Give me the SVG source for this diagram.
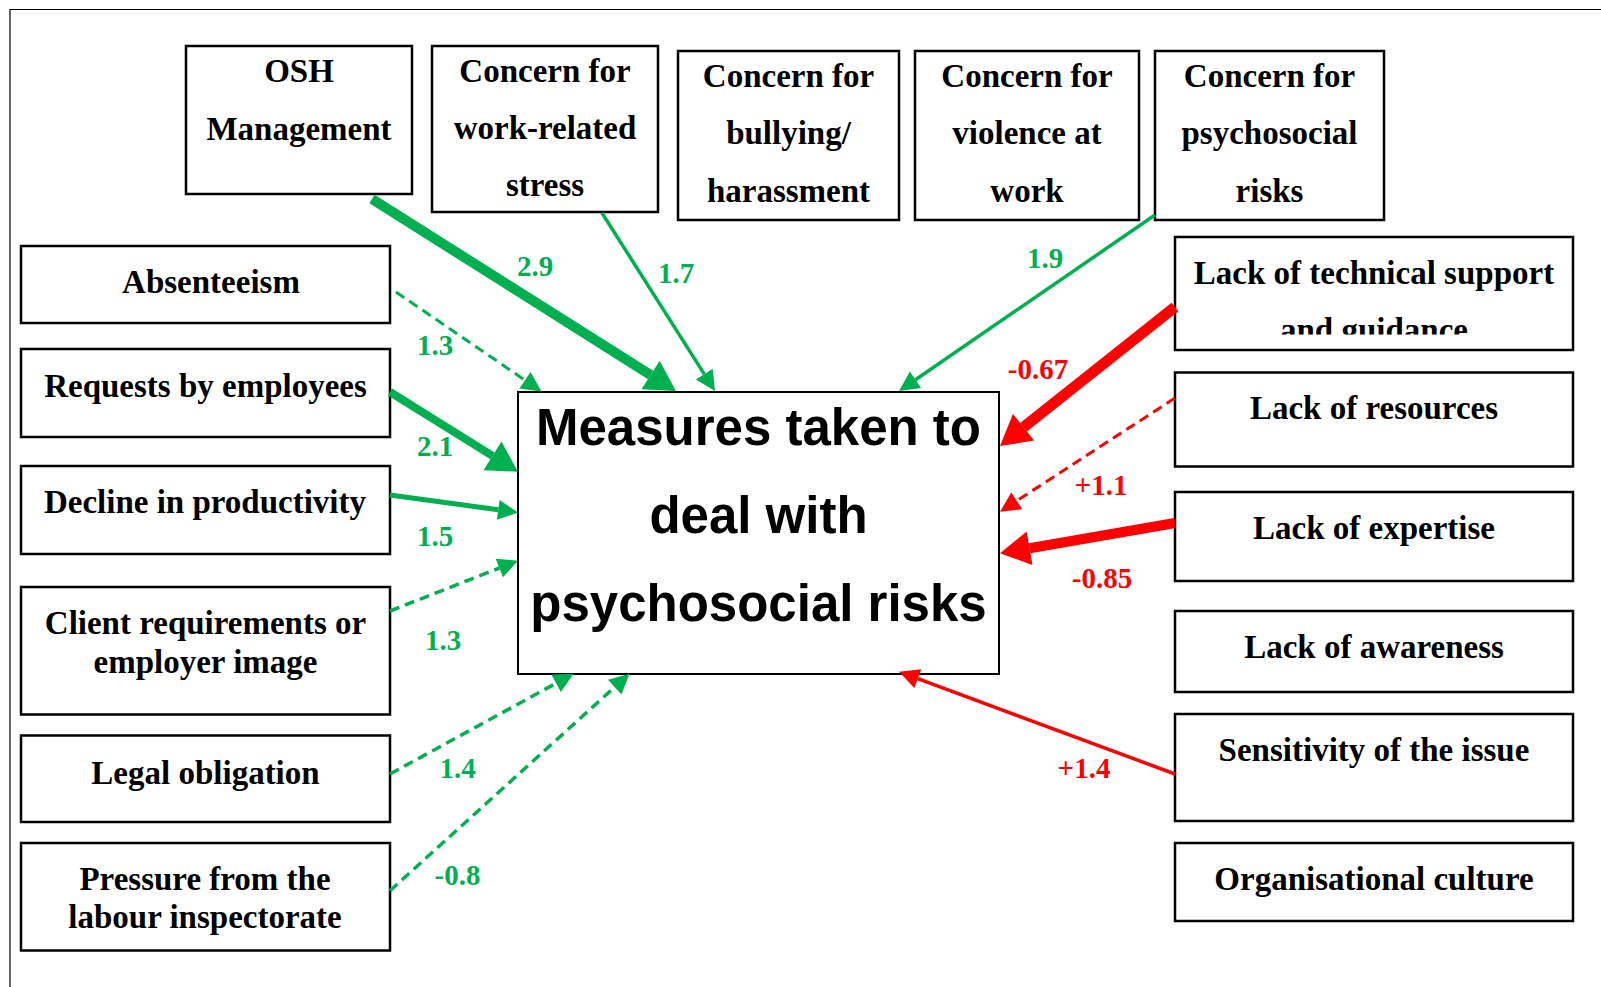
<svg xmlns="http://www.w3.org/2000/svg" width="1601" height="987" viewBox="0 0 1601 987">
<style>
.box{fill:#fff;stroke:#000;stroke-width:2.5}
.core{fill:#fff;stroke:#000;stroke-width:2}
.t{font-family:"Liberation Serif","Times New Roman",serif;font-weight:bold;font-size:33px;text-anchor:middle;fill:#000}
.c{font-family:"Liberation Sans",Arial,sans-serif;font-weight:bold;font-size:51px;text-anchor:middle;fill:#000}
.lg{font-family:"Liberation Serif","Times New Roman",serif;font-weight:bold;font-size:29px;text-anchor:middle;fill:#00B050}
.lr{font-family:"Liberation Serif","Times New Roman",serif;font-weight:bold;font-size:29px;text-anchor:middle;fill:#FF0000}
.g{fill:none;stroke:#00B050}
.r{fill:none;stroke:#FF0000}
.d{stroke-dasharray:10 6}
</style>
<defs>
<marker id="gL" markerUnits="userSpaceOnUse" orient="auto" refX="0" refY="0" markerWidth="30" markerHeight="34" overflow="visible"><path d="M0,-17 L30,0 L0,17 z" fill="#00B050"/></marker>
<marker id="gS" markerUnits="userSpaceOnUse" orient="auto" refX="0" refY="0" markerWidth="20" markerHeight="20" overflow="visible"><path d="M0,-10 L20,0 L0,10 z" fill="#00B050"/></marker>
<marker id="rL" markerUnits="userSpaceOnUse" orient="auto" refX="0" refY="0" markerWidth="30" markerHeight="34" overflow="visible"><path d="M0,-17 L30,0 L0,17 z" fill="#FF0000"/></marker>
<marker id="rS" markerUnits="userSpaceOnUse" orient="auto" refX="0" refY="0" markerWidth="20" markerHeight="20" overflow="visible"><path d="M0,-10 L20,0 L0,10 z" fill="#FF0000"/></marker>
<clipPath id="clipTech"><rect x="1175" y="237" width="398" height="97.5"/></clipPath>
</defs>
<rect x="0" y="0" width="1601" height="987" fill="#fff"/>
<path d="M10,987 V9.5 H1601" fill="none" stroke="#000" stroke-width="1.2"/>

<g id="n-osh"><rect class="box" x="186" y="46" width="226" height="148"/><text class="t" x="299" y="82">OSH</text><text class="t" x="299" y="140">Management</text></g>
<g id="n-stress"><rect class="box" x="432" y="46" width="226" height="166"/><text class="t" x="545" y="82">Concern for</text><text class="t" x="545" y="139">work-related</text><text class="t" x="545" y="196">stress</text></g>
<g id="n-bullying"><rect class="box" x="678" y="51" width="221" height="169"/><text class="t" x="788.5" y="87">Concern for</text><text class="t" x="788.5" y="144">bullying/</text><text class="t" x="788.5" y="202">harassment</text></g>
<g id="n-violence"><rect class="box" x="915" y="51" width="224" height="169"/><text class="t" x="1027" y="87">Concern for</text><text class="t" x="1027" y="144">violence at</text><text class="t" x="1027" y="202">work</text></g>
<g id="n-psycho"><rect class="box" x="1155" y="51" width="229" height="169"/><text class="t" x="1269.5" y="87">Concern for</text><text class="t" x="1269.5" y="144">psychosocial</text><text class="t" x="1269.5" y="202">risks</text></g>

<g id="n-absenteeism"><rect class="box" x="21" y="246" width="369" height="77"/><text class="t" x="211" y="293">Absenteeism</text></g>
<g id="n-requests"><rect class="box" x="21" y="349" width="369" height="88"/><text class="t" x="205.5" y="397">Requests by employees</text></g>
<g id="n-decline"><rect class="box" x="21" y="466" width="369" height="88"/><text class="t" x="205" y="513">Decline in productivity</text></g>
<g id="n-client"><rect class="box" x="21" y="587" width="369" height="127.5"/><text class="t" x="205.5" y="634">Client requirements or</text><text class="t" x="205.5" y="673">employer image</text></g>
<g id="n-legal"><rect class="box" x="21" y="735.5" width="369" height="86.5"/><text class="t" x="205.5" y="783.5">Legal obligation</text></g>
<g id="n-pressure"><rect class="box" x="21" y="843" width="369" height="107.5"/><text class="t" x="205" y="890">Pressure from the</text><text class="t" x="205" y="927.5">labour inspectorate</text></g>

<g id="n-tech"><rect class="box" x="1175" y="237" width="398" height="113"/><text class="t" x="1374" y="284">Lack of technical support</text><text class="t" x="1374" y="341" clip-path="url(#clipTech)">and guidance</text></g>
<g id="n-resources"><rect class="box" x="1175" y="372.5" width="398" height="94"/><text class="t" x="1374" y="419">Lack of resources</text></g>
<g id="n-expertise"><rect class="box" x="1175" y="492" width="398" height="89"/><text class="t" x="1374" y="538.5">Lack of expertise</text></g>
<g id="n-awareness"><rect class="box" x="1175" y="611" width="398" height="81"/><text class="t" x="1374" y="657.5">Lack of awareness</text></g>
<g id="n-sensitivity"><rect class="box" x="1175" y="714" width="398" height="107"/><text class="t" x="1374" y="760.5">Sensitivity of the issue</text></g>
<g id="n-culture"><rect class="box" x="1175" y="843" width="398" height="78"/><text class="t" x="1374" y="890">Organisational culture</text></g>

<g id="n-measures"><rect class="core" x="518" y="392" width="481" height="282"/><text class="c" x="758.5" y="445">Measures taken to</text><text class="c" x="758.5" y="533">deal with</text><text class="c" x="758.5" y="621">psychosocial risks</text></g>

<g id="connectors">
<line class="g" stroke-width="10" x1="372" y1="199" x2="650.6" y2="375" marker-end="url(#gL)"/>
<line class="g" stroke-width="3.5" x1="602" y1="213" x2="704.3" y2="374.1" marker-end="url(#gS)"/>
<line class="g" stroke-width="3.5" x1="1155" y1="215" x2="915.5" y2="379.7" marker-end="url(#gS)"/>
<line class="g d" stroke-width="3" x1="396" y1="292" x2="525" y2="380.2" marker-end="url(#gS)"/>
<line class="g" stroke-width="8" x1="390" y1="392" x2="492.5" y2="455.9" marker-end="url(#gL)"/>
<line class="g" stroke-width="5" x1="390" y1="495" x2="498.2" y2="509.8" marker-end="url(#gS)"/>
<line class="g d" stroke-width="3.5" x1="390" y1="611" x2="499.4" y2="568" marker-end="url(#gS)"/>
<line class="g d" stroke-width="3.5" x1="390" y1="774" x2="556.1" y2="683.3" marker-end="url(#gS)"/>
<line class="g d" stroke-width="3.5" x1="390" y1="890.7" x2="614.7" y2="687.1" marker-end="url(#gS)"/>
<line class="r" stroke-width="11" x1="1175" y1="307" x2="1023.5" y2="427.3" marker-end="url(#rL)"/>
<line class="r d" stroke-width="3" x1="1175" y1="398" x2="1016.8" y2="500.8" marker-end="url(#rS)"/>
<line class="r" stroke-width="10" x1="1175" y1="523" x2="1029.6" y2="548.2" marker-end="url(#rL)"/>
<line class="r" stroke-width="3.5" x1="1175" y1="774" x2="917.8" y2="678.6" marker-end="url(#rS)"/>
<text class="lg" x="535" y="276">2.9</text>
<text class="lg" x="676" y="283">1.7</text>
<text class="lg" x="1045" y="268">1.9</text>
<text class="lg" x="435" y="355">1.3</text>
<text class="lg" x="435" y="456">2.1</text>
<text class="lg" x="435" y="546">1.5</text>
<text class="lg" x="443" y="650">1.3</text>
<text class="lg" x="457.5" y="778">1.4</text>
<text class="lg" x="457.5" y="885">-0.8</text>
<text class="lr" x="1038" y="379">-0.67</text>
<text class="lr" x="1101" y="495">+1.1</text>
<text class="lr" x="1102" y="588">-0.85</text>
<text class="lr" x="1084" y="778">+1.4</text>
</g>
</svg>
